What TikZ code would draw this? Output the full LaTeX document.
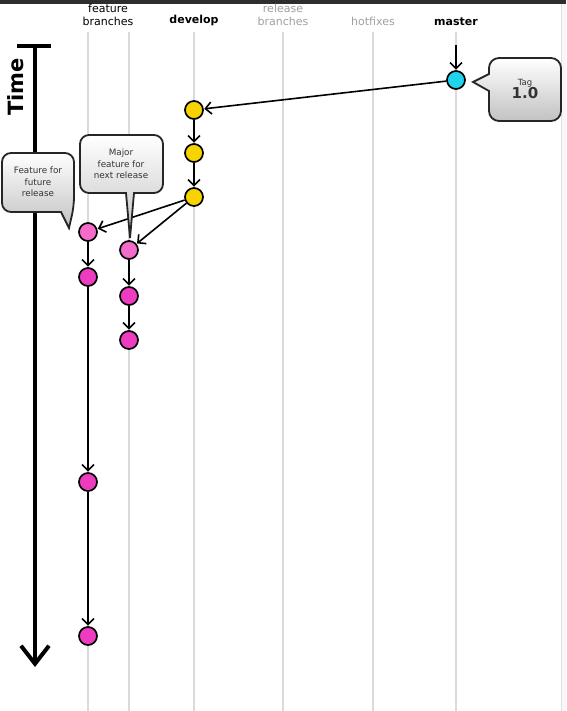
\documentclass[tikz,border=0pt]{standalone}
\usepackage{fontspec}
\setmainfont{DejaVu Sans}
\usetikzlibrary{arrows.meta}
\definecolor{lane}{HTML}{DADADA}
\definecolor{devc}{HTML}{F7D400}
\definecolor{masterc}{HTML}{20D4EC}
\definecolor{featc}{HTML}{EE3CC0}
\definecolor{featl}{HTML}{F36BCB}
\definecolor{labgray}{HTML}{A0A0A0}
\definecolor{boxtext}{HTML}{333333}
\tikzset{
  lanel/.style={draw=lane, line width=2.5pt},
  commit/.style={circle, draw=black, line width=1.7pt, minimum size=18pt, inner sep=0pt},
  flow/.style={draw=black, line width=1.6pt, -{Straight Barb[length=6pt,width=12pt,line width=1.6pt]}, shorten >=0.5pt},
  head/.style={font=\fontsize{11}{13}\selectfont, align=center, anchor=south},
  callout/.style={draw=black!85, line width=1.8pt, top color=white, bottom color=black!24},
  ctext/.style={font=\fontsize{8.8}{11.5}\selectfont, text=boxtext, align=center}
}
\begin{document}
\begin{tikzpicture}[x=1pt,y=-1pt]
\useasboundingbox (0,0) rectangle (566,711);
\fill[white] (0,0) rectangle (566,711);
\fill[black!82] (0,0) rectangle (566,4);
\fill[black!3] (561,4) rectangle (566,711);
\draw[black!12, line width=0.6pt] (561,4) -- (561,711);
% lanes
\foreach \x in {88,129,194,283,373,456} { \draw[lanel] (\x,32) -- (\x,711); }
% headers
\node[head] (hfeat) at (108,29) {feature\\branches};
\node[head, font=\fontsize{11}{13}\selectfont\bfseries] (hdev) at (194,29) {develop};
\node[head, text=labgray] (hrel) at (283,29) {release\\branches};
\node[head, text=labgray] (hhot) at (373,29) {hotfixes};
\node[head, font=\fontsize{11}{13}\selectfont\bfseries] (hmas) at (456,29) {master};
% time axis
\coordinate (tt) at (35,46);
\coordinate (tb) at (35,667);
\draw[line width=4.5pt] (17,46) -- (51,46);
\draw[line width=3.4pt, -{Straight Barb[length=18pt,width=28pt,line width=4pt]}] (tt) -- (tb);
\node[rotate=90, font=\fontsize{21}{24}\selectfont\bfseries] (time) at (16,87) {Time};
% commits
\node[commit, fill=masterc] (m1) at (456,80) {};
\coordinate (mtop) at (456,45);
\node[commit, fill=devc] (d1) at (194,110) {};
\node[commit, fill=devc] (d2) at (194,153) {};
\node[commit, fill=devc] (d3) at (194,197) {};
\node[commit, fill=featl] (a1) at (88,232) {};
\node[commit, fill=featc] (a2) at (88,277) {};
\node[commit, fill=featc] (a3) at (88,482) {};
\node[commit, fill=featc] (a4) at (88,636) {};
\node[commit, fill=featl] (b1) at (129,250) {};
\node[commit, fill=featc] (b2) at (129,296) {};
\node[commit, fill=featc] (b3) at (129,340) {};
% connectors
\draw[flow] (mtop) -- (m1);
\draw[flow] (m1) -- (d1);
\draw[flow] (d1) -- (d2);
\draw[flow] (d2) -- (d3);
\draw[flow] (d3) -- (a1);
\draw[flow] (d3) -- (b1);
\draw[flow] (a1) -- (a2);
\draw[flow] (a2) -- (a3);
\draw[flow] (a3) -- (a4);
\draw[flow] (b1) -- (b2);
\draw[flow] (b2) -- (b3);
% callout: feature for future release
\draw[callout] (38,153) [rounded corners=9pt] -- (74,153) -- (74,206) [sharp corners] -- (69,228) -- (61,212) [rounded corners=9pt] -- (2,212) -- (2,153) -- (38,153);
\node[ctext] (c1) at (38,182) {Feature for\\future\\release};
% callout: major feature
\draw[callout] (121,135) [rounded corners=9pt] -- (163,135) -- (163,193) [sharp corners] -- (134,193) -- (130,238) -- (126,193) [rounded corners=9pt] -- (80,193) -- (80,135) -- (121,135);
\node[ctext] (c2) at (121,164) {Major\\feature for\\next release};
% callout: tag
\draw[callout] (525,58) [rounded corners=10pt] -- (561,58) -- (561,121) -- (489,121) [sharp corners] -- (489,91) -- (473,82) -- (489,74) [rounded corners=10pt] -- (489,58) -- (525,58);
\node[align=center, text=boxtext] (tag) at (525,89) {{\fontsize{8.5}{9}\selectfont Tag}\\[-1pt]{\fontsize{15}{16}\selectfont\bfseries 1.0}};
\end{tikzpicture}
\end{document}
